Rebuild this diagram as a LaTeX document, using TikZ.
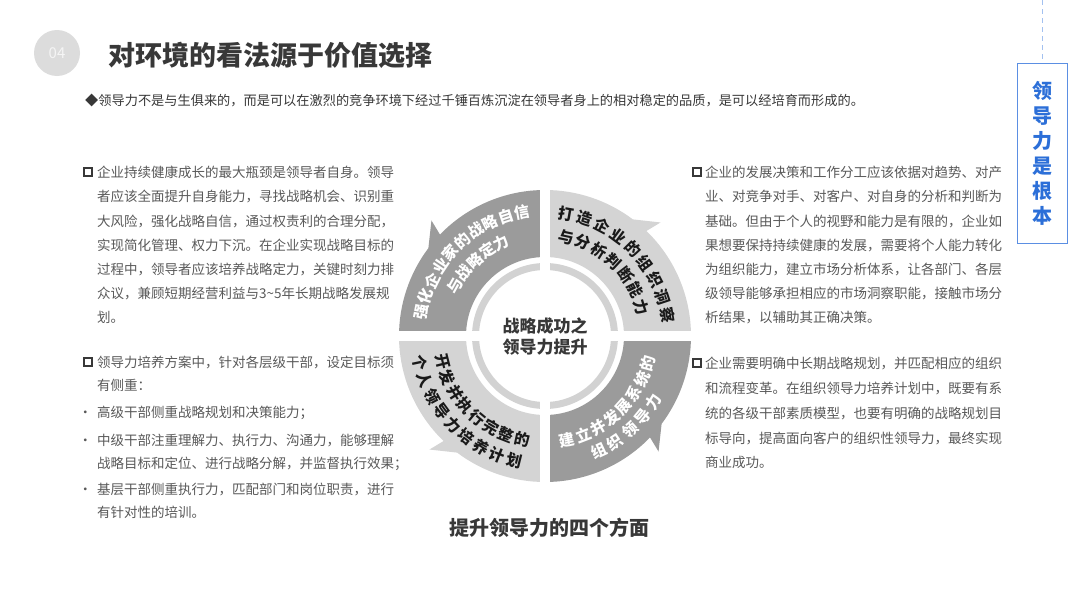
\documentclass[tikz,border=0pt]{standalone}
\usepackage{fontspec}
\setmainfont{Noto Sans CJK SC}
\usetikzlibrary{positioning}

\definecolor{segdark}{HTML}{9B9B9B}
\definecolor{seglight}{HTML}{D4D4D4}
\definecolor{ringgray}{HTML}{D2D2D2}
\definecolor{bodygray}{HTML}{595959}
\definecolor{headgray}{HTML}{383838}
\definecolor{blobgray}{HTML}{DCDCDC}
\definecolor{rootblue}{HTML}{2C6FD8}
\definecolor{rootframe}{HTML}{5B8FE3}
\definecolor{dashblue}{HTML}{A3C1F0}

% one line of characters set along an arc
\newcommand{\arcword}[7]{%
  \foreach \ch [count=\k from 0] in {#7}
    \node[segtxt, text=#2, rotate={#3+#4*\k+#6}] (#1\k) at ({#3+#4*\k}:#5) {\ch};}

\begin{document}
\begin{tikzpicture}[
    x=1pt, y=-1pt,
    body/.style={anchor=north west, inner sep=0pt, align=left, text=bodygray,
                 font=\fontsize{13.5}{24.2}\selectfont},
    sqbox/.style={draw=headgray, line width=1.6pt, minimum size=7.5pt, inner sep=0pt},
    segtxt/.style={inner sep=0pt, font=\bfseries\fontsize{15.5}{15.5}\selectfont}
  ]
    \useasboundingbox (0,0) rectangle (1080,608);
    \fill[white] (0,0) rectangle (1080,608);

    % Header
    \node[circle, fill=blobgray, minimum size=46pt, inner sep=0pt,
          text=white!92!gray, font=\fontsize{15}{15}\selectfont] (numblob) at (57,53) {04};
    \node[anchor=west, inner sep=0pt, text=headgray,
          font=\bfseries\fontsize{27}{27}\selectfont] (title) at (108,55)
      {对环境的看法源于价值选择};
    \node[anchor=west, inner sep=0pt, text=headgray,
          font=\fontsize{13.2}{13.2}\selectfont] (lead) at (85,100)
      {◆领导力不是与生俱来的，而是可以在激烈的竞争环境下经过千锤百炼沉淀在领导者身上的相对稳定的品质，是可以经培育而形成的。};

    % Side tag
    \node[draw=rootframe, line width=1pt, minimum width=50pt, minimum height=180pt,
          align=center, text=rootblue, font=\bfseries\fontsize{20}{25}\selectfont]
      (rootbox) at (1042,153) {领\\导\\力\\是\\根\\本};
    \coordinate (dashtop) at (1042,0);
    \draw[dashblue, line width=0.8pt, dash pattern=on 5pt off 4pt] (dashtop) -- (rootbox.north);

    % Left texts
    \node[sqbox] (sqA) at (88,172) {};
    \node[body] (blkA) at (97,166)
      {企业持续健康成长的最大瓶颈是领导者自身。领导\\
       者应该全面提升自身能力，寻找战略机会、识别重\\
       大风险，强化战略自信，通过权责利的合理分配，\\
       实现简化管理、权力下沉。在企业实现战略目标的\\
       过程中，领导者应该培养战略定力，关键时刻力排\\
       众议，兼顾短期经营利益与3\textasciitilde 5年长期战略发展规\\
       划。};
    \node[sqbox] (sqB) at (88,362) {};
    \node[body, font=\fontsize{13.5}{23.3}\selectfont] (blkB) at (97,356)
      {领导力培养方案中，针对各层级干部，设定目标须\\
       有侧重：\\[3.5pt]
       \llap{•\hspace{5pt}}高级干部侧重战略规划和决策能力；\\[4.5pt]
       \llap{•\hspace{5pt}}中级干部注重理解力、执行力、沟通力，能够理解\\
       战略目标和定位、进行战略分解，并监督执行效果；\\[2.5pt]
       \llap{•\hspace{5pt}}基层干部侧重执行力，匹配部门和岗位职责，进行\\
       有针对性的培训。};

    % Right texts
    \node[sqbox] (sqC) at (697,172) {};
    \node[body] (blkC) at (705,166)
      {企业的发展决策和工作分工应该依据对趋势、对产\\
       业、对竞争对手、对客户、对自身的分析和判断为\\
       基础。但由于个人的视野和能力是有限的，企业如\\
       果想要保持持续健康的发展，需要将个人能力转化\\
       为组织能力，建立市场分析体系，让各部门、各层\\
       级领导能够承担相应的市场洞察职能，接触市场分\\
       析结果，以辅助其正确决策。};
    \node[sqbox] (sqD) at (697,363) {};
    \node[body, font=\fontsize{13.5}{24.8}\selectfont] (blkD) at (705,357)
      {企业需要明确中长期战略规划，并匹配相应的组织\\
       和流程变革。在组织领导力培养计划中，既要有系\\
       统的各级干部素质模型，也要有明确的战略规划目\\
       标导向，提高面向客户的组织性领导力，最终实现\\
       商业成功。};

    % Wheel
    \begin{scope}[shift={(545,336)}, yscale=-1]
      \foreach \lo/\col in {90/segdark, 0/seglight, 180/seglight, 270/segdark}
        \fill[\col] ({\lo+90}:79) -- ({\lo+90}:146)
          arc[start angle=\lo+90, end angle=\lo+53, radius=146]
          -- ({\lo+44.5}:162) -- ({\lo+46}:146)
          arc[start angle=\lo+46, end angle=\lo, radius=146]
          -- (\lo:79) arc[start angle=\lo, end angle=\lo+90, radius=79] -- cycle;
      \draw[ringgray, line width=7pt] (0,0) circle[radius=69.5];
      % white cross
      \fill[white] (-170,-5) rectangle (170,5);
      \fill[white] (-5,-170) rectangle (5,170);

      \node[align=center, text=headgray, font=\bfseries\fontsize{17}{21}\selectfont]
        (core) at (0,0) {战略成功之\\领导力提升};

      \arcword{tlA}{white}{169}{-7.6}{126}{-90}{强,化,企,业,家,的,战,略,自,信}
      \arcword{tlB}{white}{151}{-9}{103}{-90}{与,战,略,定,力}
      \arcword{trA}{black!90}{80}{-8.8}{124}{-90}{打,造,企,业,的,组,织,洞,察}
      \arcword{trB}{black!90}{78}{-10.2}{101}{-90}{与,分,析,判,断,能,力}
      \arcword{blA}{black!90}{194}{9.1}{106}{90}{开,发,并,执,行,完,整,的}
      \arcword{blB}{black!90}{192}{8}{128}{90}{个,人,领,导,力,培,养,计,划}
      \arcword{brA}{white}{282}{9}{106}{90}{建,立,并,发,展,系,统,的}
      \arcword{brB}{white}{295}{8.5}{127}{90}{组,织,领,导,力}
    \end{scope}

    % Caption
    \node[text=headgray, font=\bfseries\fontsize{20}{20}\selectfont] (caption) at (549,528)
      {提升领导力的四个方面};
\end{tikzpicture}
\end{document}
